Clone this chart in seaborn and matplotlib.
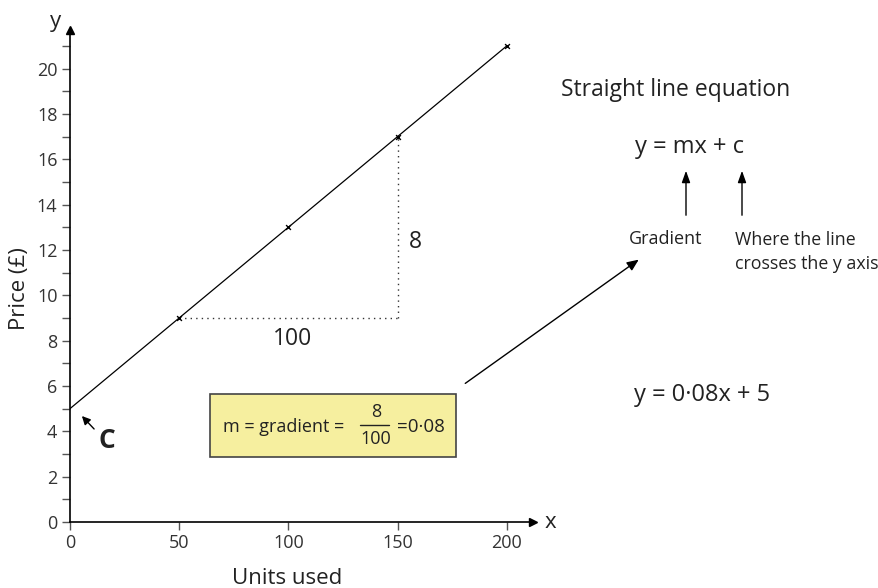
import numpy as np
import matplotlib
matplotlib.use("Agg")
import matplotlib.pyplot as plt
import matplotlib.patches as patches
import pandas as pd
import seaborn as sns

# chart values
units = [0, 50, 100, 150, 200]
price = [5, 9, 13, 17, 21]
markedUnits = [50, 100, 150, 200]
markedPrice = [9, 13, 17, 21]
xTicks = [0, 50, 100, 150, 200]
yTicks = [0, 2, 4, 6, 8, 10, 12, 14, 16, 18, 20]
yMinor = [1, 3, 5, 7, 9, 11, 13, 15, 17, 19, 21]

W, H = 879, 588


def fig_xy(px, py):
    """pixel position on the figure -> figure fraction"""
    return (px / W, 1 - py / H)


sns.set_style("white")
plt.rcParams["font.family"] = ["Open Sans", "DejaVu Sans"]
textColor = "#222222"

fig = plt.figure(figsize=(W / 100, H / 100), dpi=100)
ax = fig.add_axes([70 / W, 1 - 522 / H, (533 - 70) / W, (522 - 30) / H])

lineData = pd.DataFrame({"units": units, "price": price})
pointData = pd.DataFrame({"units": markedUnits, "price": markedPrice})

sns.lineplot(data=lineData, x="units", y="price", color="black", lw=0.9, ax=ax)
sns.scatterplot(data=pointData, x="units", y="price", marker="x", color="black",
                s=12, linewidth=1.0, ax=ax, zorder=3)

# rise / run triangle
ax.plot([markedUnits[0], markedUnits[2]], [markedPrice[0], markedPrice[0]],
        ls=(0, (1, 3)), color="#333333", lw=1)
ax.plot([markedUnits[2], markedUnits[2]], [markedPrice[0], markedPrice[2]],
        ls=(0, (1, 3)), color="#333333", lw=1)

ax.set_xlim(0, 212)
ax.set_ylim(0, 21.7)
ax.set_xticks(xTicks)
ax.set_yticks(yTicks)
ax.set_yticks(yMinor, minor=True)
ax.tick_params(axis="both", which="both", direction="out", length=6, width=1,
               color="#555555", labelsize=13, labelcolor="#333333", pad=3,
               bottom=True, left=True)

for side in ["top", "right"]:
    ax.spines[side].set_visible(False)
for side in ["left", "bottom"]:
    ax.spines[side].set_color("black")
    ax.spines[side].set_linewidth(1.2)

# arrowheads at the ends of the axes
ax.plot(1, 0, ">k", ms=6, transform=ax.get_yaxis_transform(), clip_on=False)
ax.plot(0, 1, "^k", ms=6, transform=ax.get_xaxis_transform(), clip_on=False)

ax.set_xlabel("")
ax.set_ylabel("")
fig.text(*fig_xy(287, 584), "Units used", fontsize=16, color=textColor,
         ha="center", va="baseline")
fig.text(*fig_xy(19, 289), "Price (£)", fontsize=16, color=textColor,
         ha="center", va="center", rotation=90)

fig.text(*fig_xy(56, 22), "y", fontsize=16, color=textColor, ha="center", va="center")
fig.text(*fig_xy(550, 522), "x", fontsize=16, color=textColor, ha="center", va="center")

# triangle labels
fig.text(*fig_xy(415, 242), "8", fontsize=16.5, color=textColor, ha="center", va="center")
fig.text(*fig_xy(293, 339), "100", fontsize=16.5, color=textColor, ha="center", va="center")

# intercept label
fig.text(*fig_xy(107, 441), "C", fontsize=19, fontweight="bold", color=textColor,
         ha="center", va="center")
fig.patches.append(patches.FancyArrowPatch(fig_xy(96, 431), fig_xy(80, 414),
                                           transform=fig.transFigure,
                                           arrowstyle="-|>,head_length=5,head_width=2.5",
                                           color="black", lw=1))

# gradient box
box = patches.Rectangle(fig_xy(210, 457), (456 - 210) / W, (457 - 394) / H,
                        transform=fig.transFigure, facecolor="#f6ef9f",
                        edgecolor="#444444", lw=1.2)
fig.patches.append(box)
fig.text(*fig_xy(223, 427), "m = gradient =", fontsize=13, color=textColor,
         ha="left", va="center")
fig.text(*fig_xy(376, 412), "8", fontsize=13, color=textColor, ha="center", va="center")
fig.text(*fig_xy(376, 439), "100", fontsize=13, color=textColor, ha="center", va="center")
fig.lines.append(plt.Line2D([360 / W, 389 / W], [1 - 425 / H, 1 - 425 / H],
                            transform=fig.transFigure, color=textColor, lw=1))
fig.text(*fig_xy(397, 427), "=0·08", fontsize=13.5, color=textColor, ha="left", va="center")

fig.patches.append(patches.FancyArrowPatch(fig_xy(463, 385), fig_xy(641, 258),
                                           transform=fig.transFigure,
                                           arrowstyle="-|>,head_length=7,head_width=3",
                                           color="black", lw=1))

# right hand notes
fig.text(*fig_xy(561, 90), "Straight line equation", fontsize=16.5, color=textColor,
         ha="left", va="center")
fig.text(*fig_xy(690, 147), "y = mx + c", fontsize=17, color=textColor,
         ha="center", va="center")
for px in [686, 742]:
    fig.patches.append(patches.FancyArrowPatch(fig_xy(px, 218), fig_xy(px, 168),
                                               transform=fig.transFigure,
                                               arrowstyle="-|>,head_length=7,head_width=2.5",
                                               color="black", lw=1))
fig.text(*fig_xy(666, 239), "Gradient", fontsize=13, color=textColor,
         ha="center", va="center")
fig.text(*fig_xy(735, 252), "Where the line\ncrosses the y axis", fontsize=12.8,
         color=textColor, ha="left", va="center", linespacing=1.45)
fig.text(*fig_xy(634, 395), "y = 0·08x + 5", fontsize=17, color=textColor,
         ha="left", va="center")

fig.savefig("out.png", dpi=100)
